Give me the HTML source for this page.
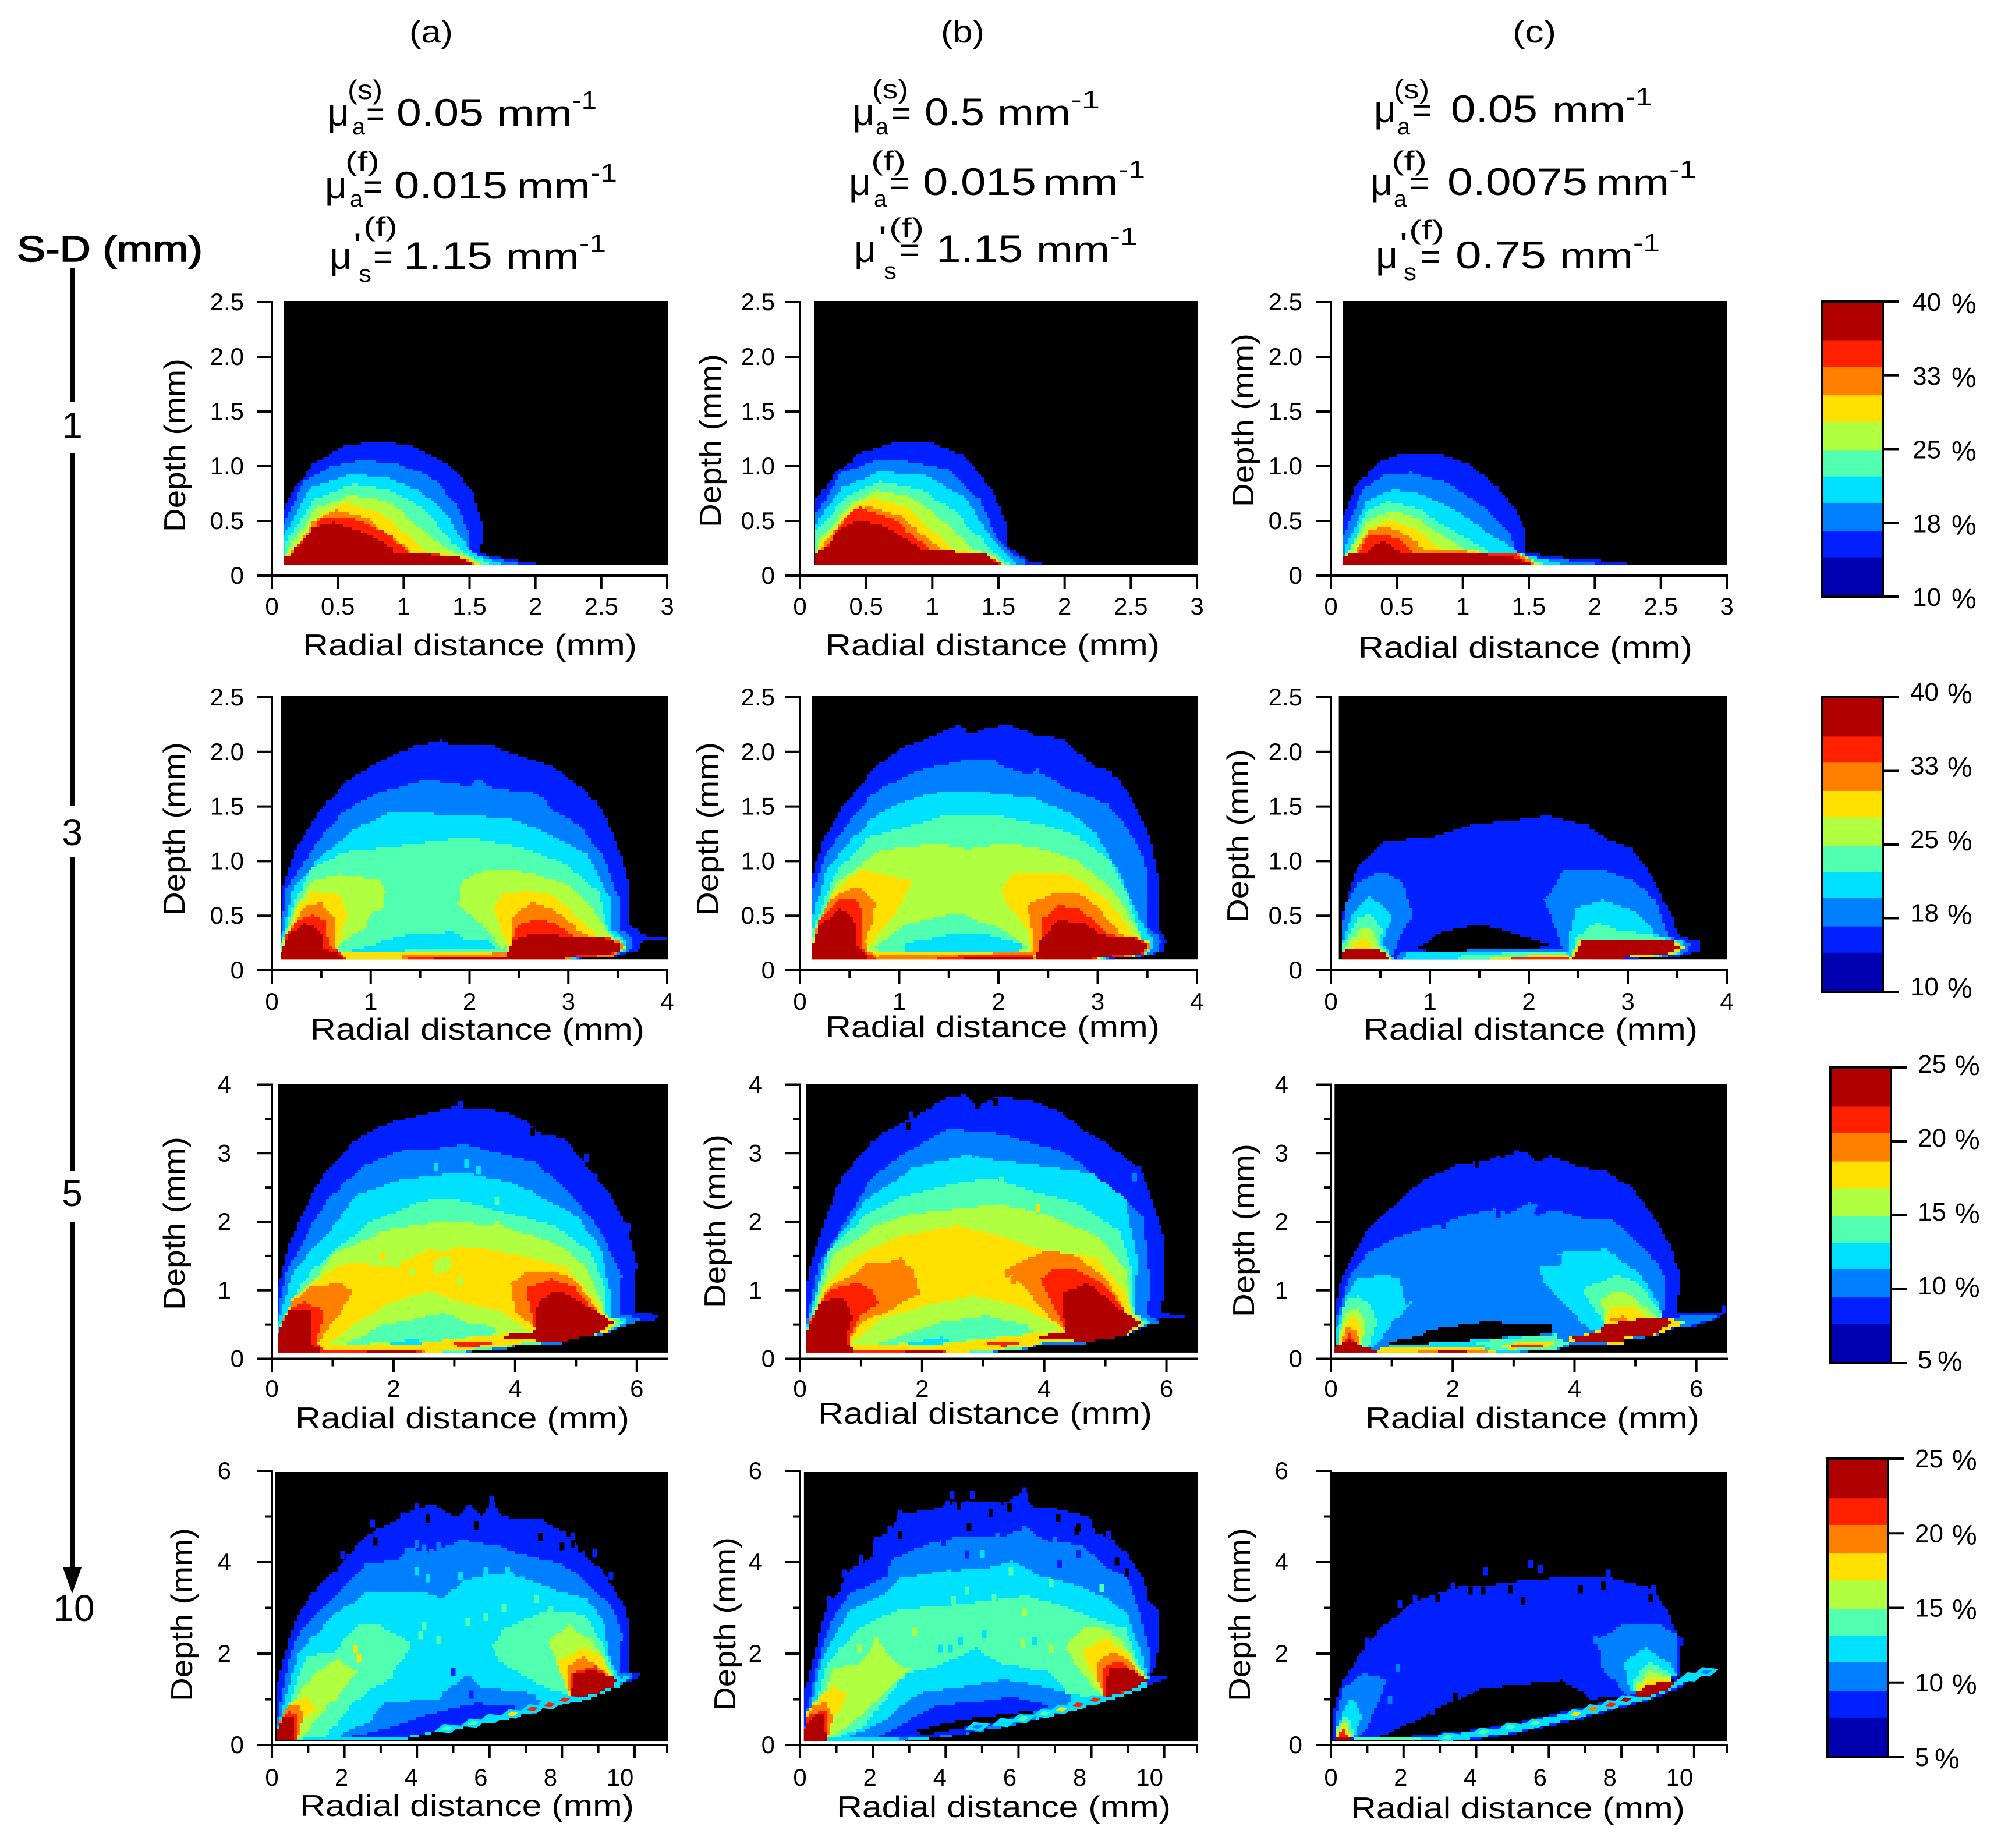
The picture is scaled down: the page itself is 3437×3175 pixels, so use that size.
<!DOCTYPE html>
<html>
<head>
<meta charset="utf-8">
<title>Fluorescence sensitivity maps</title>
<style>
html,body{margin:0;padding:0;background:#fff}
svg{display:block}
text{font-family:"Liberation Sans",sans-serif;fill:#000}
</style>
</head>
<body>
<svg id="figure" xmlns="http://www.w3.org/2000/svg" width="3437" height="3175" viewBox="0 0 3437 3175">
<rect x="0" y="0" width="3437" height="3175" fill="#fff"/>
<text x="703" y="73" font-size="54" textLength="75" lengthAdjust="spacingAndGlyphs">(a)</text>
<text x="1616" y="73" font-size="54" textLength="75" lengthAdjust="spacingAndGlyphs">(b)</text>
<text x="2598" y="73" font-size="54" textLength="75" lengthAdjust="spacingAndGlyphs">(c)</text>
<text x="29" y="449" font-size="62" stroke="#000" stroke-width="1.6" textLength="319" lengthAdjust="spacingAndGlyphs">S-D (mm)</text>
<g fill="#000">
<rect x="120" y="461" width="8" height="230"/>
<rect x="120" y="779" width="8" height="606"/>
<rect x="120" y="1473" width="8" height="539"/>
<rect x="120" y="2100" width="8" height="595"/>
<polygon points="124,2738 108,2693 140,2693"/>
</g>
<text x="124" y="753" font-size="64" text-anchor="middle">1</text>
<text x="124" y="1452" font-size="64" text-anchor="middle">3</text>
<text x="124" y="2072" font-size="64" text-anchor="middle">5</text>
<text x="127" y="2785" font-size="64" text-anchor="middle">10</text>
</svg>
<script>
/* ---------- colour bands (0 = hottest ... 9 = coldest, 10 = no signal) ---------- */
const bandColors=['#b00000','#ff2000','#ff8000','#ffe000','#b0ff40','#50ffb0','#00e0ff','#0080ff','#0020ff','#0000b0','#000000'];

/* ---------- tick values ---------- */
const row1YTicks=[0,0.5,1,1.5,2,2.5];
const row1YLabels=['0','0.5','1.0','1.5','2.0','2.5'];
const row1XTicks=[0,0.5,1,1.5,2,2.5,3];
const row1XLabels=['0','0.5','1','1.5','2','2.5','3'];
const row2YTicks=[0,0.5,1,1.5,2,2.5];
const row2YLabels=['0','0.5','1.0','1.5','2.0','2.5'];
const row2XTicks=[0,1,2,3,4];
const row2XLabels=['0','1','2','3','4'];
const row2XMinor=[0.5,1.5,2.5,3.5];
const row3YTicks=[0,1,2,3,4];
const row3YLabels=['0','1','2','3','4'];
const row3YMinor=[0.5,1.5,2.5,3.5];
const row3XTicks=[0,2,4,6];
const row3XLabels=['0','2','4','6'];
const row3XMinor=[1,3,5];
const row4YTicks=[0,2,4,6];
const row4YLabels=['0','2','4','6'];
const row4YMinor=[1,3,5];
const row4XTicks=[0,2,4,6,8,10];
const row4XLabels=['0','2','4','6','8','10'];
const row4XMinor=[1,3,5,7,9,10.9];

/* ---------- colour bar values ---------- */
const barLabelsHigh=['40','33','25','18','10'];
const barLabelsLow=['25','20','15','10','5'];
const barStops=[0,.133,.222,.318,.408,.504,.593,.682,.778,.867,1];
const barBands=[0,1,2,3,4,5,6,7,8,9];

/* ---------- contour layers: [band, [radial, depth, radial, depth, ...]] in mm ---------- */
const a1Bands=[
[8,[.09,.1,.09,.6,.17,.81,.31,1.03,.54,1.18,.81,1.23,1.05,1.18,1.32,1.03,1.52,.77,1.6,.46,1.59,.2,1.69,.175,2.02,.11,2.02,.1]],
[7,[.09,.1,.09,.48,.24,.87,.44,1,.64,1.05,.91,1.04,1.18,.91,1.39,.66,1.5,.38,1.5,.2,1.62,.17,1.86,.11,1.86,.1]],
[6,[.09,.1,.09,.38,.27,.79,.58,.93,.88,.89,1.15,.75,1.35,.5,1.49,.23,1.59,.17,1.76,.1]],
[5,[.09,.1,.1,.32,.31,.69,.61,.84,.88,.79,1.15,.6,1.35,.32,1.47,.2,1.66,.1]],
[4,[.09,.1,.12,.26,.34,.62,.58,.74,.85,.69,1.08,.48,1.29,.26,1.45,.19,1.6,.1]],
[3,[.09,.1,.13,.22,.37,.56,.54,.66,.81,.58,1.05,.34,1.18,.2,1.42,.19,1.59,.1]],
[2,[.09,.1,.14,.2,.31,.5,.48,.6,.71,.52,.95,.32,1.08,.2,1.39,.19,1.55,.1]],
[1,[.09,.1,.14,.2,.37,.53,.61,.52,.85,.4,1.05,.2,1.39,.19,1.54,.1]],
[0,[.09,.1,.09,.17,.14,.2,.31,.44,.46,.49,.64,.42,.81,.32,.95,.2,1.39,.19,1.52,.1]]
];
const b1Bands=[
[8,[.11,.1,.11,.68,.25,.93,.45,1.12,.75,1.23,.95,1.23,1.25,1.08,1.45,.77,1.56,.47,1.56,.26,1.71,.14,1.82,.11,1.82,.1]],
[7,[.11,.1,.11,.56,.3,.93,.6,1.07,.85,1.04,1.1,.97,1.35,.7,1.48,.35,1.58,.2,1.71,.12,1.7,.1]],
[6,[.11,.1,.11,.47,.32,.81,.6,.95,.95,.91,1.25,.7,1.45,.31,1.6,.14,1.65,.1]],
[5,[.11,.1,.12,.41,.35,.74,.6,.86,.9,.79,1.15,.6,1.4,.28,1.55,.14,1.6,.1]],
[4,[.11,.1,.14,.35,.4,.68,.57,.78,.85,.72,1.1,.47,1.3,.24,1.45,.18,1.55,.1]],
[3,[.11,.1,.15,.3,.4,.64,.55,.71,.8,.62,1.15,.24,1.4,.2,1.54,.1]],
[2,[.11,.1,.17,.28,.35,.56,.5,.64,.75,.54,1.08,.22,1.4,.2,1.53,.1]],
[1,[.11,.1,.2,.26,.35,.56,.45,.62,.7,.51,1,.22,1.4,.2,1.52,.1]],
[0,[.11,.1,.11,.2,.2,.26,.3,.43,.45,.51,.65,.45,.9,.24,1.4,.2,1.5,.1]]
];
const c1Bands=[
[8,[.09,.1,.09,.55,.18,.81,.35,1.04,.5,1.1,.84,1.1,1.03,1.02,1.25,.81,1.4,.59,1.47,.41,1.47,.22,1.63,.18,2.04,.14,2.24,.12,2.24,.1]],
[7,[.09,.1,.09,.37,.24,.79,.39,.92,.59,.94,.91,.83,1.18,.59,1.36,.37,1.4,.22,1.59,.16,2,.12,2,.1]],
[6,[.09,.1,.11,.28,.27,.68,.46,.79,.69,.74,.95,.59,1.21,.37,1.4,.22,1.52,.18,1.78,.1]],
[5,[.09,.1,.12,.22,.27,.59,.42,.68,.65,.61,.88,.44,1.18,.22,1.4,.21,1.63,.1]],
[4,[.09,.1,.12,.22,.27,.5,.46,.59,.65,.52,.84,.37,1.03,.22,1.4,.21,1.6,.1]],
[3,[.09,.1,.17,.22,.29,.44,.44,.51,.61,.44,.84,.23,1.4,.21,1.57,.1]],
[2,[.09,.1,.17,.22,.29,.41,.39,.45,.5,.41,.71,.23,1.38,.21,1.55,.1]],
[1,[.09,.1,.2,.22,.27,.35,.39,.38,.5,.33,.61,.22,1.36,.21,1.54,.1]],
[0,[.09,.1,.09,.18,.17,.21,.26,.22,.37,.31,.42,.3,.52,.21,1.33,.19,1.53,.1]]
];
const a2Bands=[
[8,[.09,.1,.09,.5,.12,.79,.26,1.17,.49,1.47,.75,1.74,1.13,1.94,1.43,2.05,1.71,2.11,1.8,2.05,2.03,2.05,2.16,2.07,2.44,1.98,2.82,1.87,3.19,1.62,3.38,1.39,3.53,1.05,3.62,.77,3.62,.41,3.72,.34,3.79,.31,4,.31,4,.29,3.76,.27,3.72,.19,3.49,.13,3.12,.1]],
[7,[.09,.1,.09,.33,.15,.77,.38,1.08,.68,1.43,1.05,1.62,1.28,1.68,1.54,1.75,1.99,1.69,2.08,1.75,2.22,1.67,2.67,1.62,2.85,1.45,3.12,1.32,3.38,.99,3.51,.64,3.51,.38,3.64,.3,3.64,.19,3.46,.13,3.08,.1]],
[6,[.09,.1,.09,.24,.21,.75,.49,1.05,.86,1.32,1.18,1.44,1.54,1.44,2.37,1.4,2.78,1.25,3.19,1.05,3.42,.64,3.44,.37,3.59,.26,3.57,.17,3.38,.13,3.05,.1]],
[5,[.09,.1,.09,.24,.23,.64,.38,.92,.68,1.08,1.28,1.14,1.78,1.2,2.03,1.21,2.59,1.11,2.97,.97,3.31,.7,3.4,.35,3.57,.24,3.53,.16,3.3,.13,3,.1]],
[4,[.1,.1,.1,.22,.24,.59,.38,.81,.66,.88,1.09,.83,1.16,.72,1.13,.56,1,.52,.94,.37,.71,.24,.6,.16,.6,.1]],
[4,[1.92,.81,2.08,.9,2.4,.92,2.63,.88,2.93,.81,3.15,.66,3.34,.41,3.45,.29,2.48,.28,2.33,.19,2.29,.26,2.18,.39,1.88,.61]],
[6,[.98,.23,1.43,.34,1.69,.32,1.78,.36,1.92,.29,2.18,.27,2.29,.19,.79,.18]],
[3,[.1,.1,.12,.19,.26,.59,.41,.72,.68,.69,.77,.5,.68,.26,.66,.18,.72,.1]],
[3,[2.23,.58,2.32,.7,2.57,.73,2.82,.69,3.12,.46,3.3,.3,3.5,.26,3.57,.2,3.45,.14,2.98,.11,2.98,.1,2.35,.1,2.38,.22,2.29,.46]],
[3,[.6,.1,.6,.17,2.42,.17,2.42,.1]],
[2,[.1,.1,.17,.35,.3,.57,.49,.62,.64,.46,.64,.18,.71,.1]],
[2,[2.42,.1,2.42,.24,2.44,.5,2.61,.62,2.82,.57,3.15,.33,3.23,.3,3.51,.26,3.57,.22,3.47,.13,2.97,.1]],
[2,[1.3,.1,1.3,.14,2.38,.16,2.38,.1]],
[1,[.1,.1,.15,.33,.26,.46,.39,.51,.53,.46,.58,.22,.71,.13,.75,.1]],
[1,[2.42,.1,2.42,.28,2.52,.44,2.7,.47,2.89,.41,3.04,.31,3.42,.29,3.55,.22,3.45,.14,2.97,.11,2.95,.1]],
[1,[1.33,.1,1.6,.125,2.38,.13,2.38,.1]],
[0,[.09,.1,.09,.17,.19,.35,.3,.43,.41,.41,.53,.28,.53,.2,.68,.15,.71,.1]],
[0,[2.38,.1,2.38,.17,2.44,.28,2.67,.34,2.85,.32,3.38,.29,3.55,.22,3.49,.16,2.97,.12,2.95,.1]],
[0,[1.54,.1,1.8,.115,2.38,.12,2.38,.1]]
];
const b2Bands=[
[8,[.12,.1,.12,.83,.22,1.19,.43,1.5,.76,1.87,.96,2.01,1.27,2.12,1.58,2.25,1.72,2.16,1.87,2.22,2.1,2.25,2.34,2.15,2.64,2.12,2.78,1.99,2.98,1.85,3.11,1.83,3.31,1.61,3.51,1.25,3.61,.83,3.61,.46,3.6,.38,3.7,.26,3.66,.17,3.48,.13,3.14,.1]],
[7,[.12,.1,.12,.55,.14,.77,.26,1.08,.56,1.45,.8,1.67,1.16,1.82,1.33,1.86,1.67,1.93,1.9,1.94,2.07,1.86,2.3,1.79,2.37,1.84,2.67,1.67,3.08,1.52,3.3,1.3,3.48,.97,3.5,.38,3.65,.26,3.6,.17,3.45,.13,3.08,.1]],
[6,[.12,.1,.12,.46,.26,.92,.56,1.25,.8,1.45,1,1.53,1.3,1.62,1.73,1.64,2.34,1.57,2.74,1.43,3.01,1.21,3.21,.88,3.38,.55,3.5,.33,3.58,.24,3.5,.14,3.05,.1]],
[5,[.12,.1,.13,.39,.33,.86,.66,1.21,1,1.3,1.43,1.42,1.97,1.42,2.41,1.34,2.78,1.23,3.11,1.01,3.3,.68,3.45,.29,3.55,.24,3.5,.14,3.02,.1]],
[4,[.12,.1,.14,.35,.36,.81,.8,1.1,1.03,1.13,1.4,1.16,1.67,1.11,1.94,1.15,2.17,1.15,2.44,1.11,2.78,1.01,3.11,.77,3.35,.44,3.45,.29,3.55,.24,3.48,.14,3,.1]],
[3,[.12,.1,.14,.28,.33,.72,.59,.92,1.13,.82,1.06,.64,.9,.44,.73,.26,.66,.19,.8,.15,.8,.1]],
[3,[2.02,.77,2.15,.88,2.61,.9,2.84,.81,3.08,.64,3.38,.3,3.48,.27,3.55,.22,3.46,.14,2.98,.1,2.38,.1,2.34,.18,2.3,.35,2.07,.66]],
[3,[.6,.1,.66,.18,.8,.17,2.34,.18,2.39,.1]],
[5,[.73,.22,1.1,.43,1.33,.48,1.58,.53,2,.38,2.3,.2,2.2,.18,.86,.17]],
[6,[1.06,.25,1.47,.32,1.87,.32,2.25,.23,2.2,.18,1.06,.18]],
[2,[.12,.1,.17,.41,.29,.64,.56,.77,.76,.6,.73,.41,.66,.26,.68,.17,.8,.11,.8,.1]],
[2,[2.29,.61,2.57,.71,2.78,.7,3.01,.57,3.21,.33,3.45,.27,3.54,.22,3.46,.14,2.98,.1,2.37,.1,2.36,.28]],
[2,[.75,.1,.8,.14,1.33,.14,2.34,.17,2.37,.1]],
[1,[.12,.1,.19,.46,.39,.64,.56,.65,.63,.53,.63,.19,.76,.1]],
[1,[2.44,.1,2.44,.48,2.59,.59,2.78,.57,2.94,.46,3.11,.32,3.41,.29,3.51,.22,3.46,.15,2.98,.1]],
[1,[1.33,.1,1.63,.14,2.34,.14,2.36,.1]],
[0,[.12,.1,.12,.2,.19,.41,.39,.56,.54,.48,.58,.19,.69,.13,.69,.1]],
[0,[2.37,.1,2.42,.28,2.59,.46,2.81,.44,3.04,.32,3.38,.29,3.51,.22,3.45,.15,2.98,.12,2.94,.1]],
[0,[1.6,.1,1.87,.13,2.34,.13,2.34,.1]]
];
const c2Bands=[
[8,[.1,.1,.1,.5,.26,.94,.52,1.18,1.02,1.22,1.42,1.34,1.79,1.37,2.17,1.42,2.57,1.33,2.82,1.18,3.02,1.12,3.27,.81,3.45,.46,3.5,.32,3.72,.26,3.72,.17,3.52,.13,3.07,.1]],
[10,[.84,.2,1.12,.35,1.47,.42,1.72,.37,2.25,.22,1.67,.18,1.02,.18]],
[7,[.1,.1,.1,.28,.14,.59,.27,.81,.49,.9,.72,.81,.82,.5,.69,.28,.67,.19,.6,.1]],
[7,[2.15,.64,2.35,.92,2.67,.93,3.02,.83,3.27,.64,3.37,.41,3.42,.3,3.67,.24,3.55,.14,3.12,.11,2.42,.1,2.32,.26,2.27,.41]],
[7,[.64,.1,.72,.18,2.37,.19,2.42,.1]],
[6,[.1,.1,.11,.26,.22,.55,.39,.68,.62,.5,.52,.22,.64,.1]],
[6,[2.42,.35,2.47,.57,2.72,.64,3.07,.53,3.27,.33,3.57,.25,3.52,.14,3.05,.11,2.42,.1]],
[6,[.7,.1,.77,.16,2.37,.18,2.42,.1]],
[5,[.1,.1,.12,.24,.27,.48,.39,.52,.52,.37,.49,.22,.62,.1]],
[5,[2.47,.3,2.67,.44,2.87,.37,3.22,.32,3.54,.25,3.5,.14,3.05,.11,2.42,.1]],
[5,[1.27,.1,1.32,.15,2.37,.17,2.4,.1]],
[4,[.1,.1,.14,.22,.29,.39,.42,.37,.47,.22,.6,.1]],
[3,[.1,.1,.19,.21,.32,.3,.42,.21,.59,.13,.62,.1]],
[3,[1.52,.1,2.12,.14,2.4,.15,2.4,.1]],
[1,[1.72,.1,2.07,.12,2.4,.12,2.4,.1]],
[0,[.1,.1,.1,.17,.17,.2,.47,.2,.59,.1]],
[3,[2.4,.1,2.52,.29,3.42,.29,3.57,.2,3.45,.14,3.07,.12,2.92,.1]],
[0,[2.42,.1,2.53,.27,3.4,.285,3.53,.2,3.42,.15,3.02,.13,2.95,.1]]
];
const a3Base=[5.47,.36,4.87,.3,4.81,.23,4.14,.21,3.83,.13,3.04,.09,.1,.09];
const a3BaseMid=[5.47,.37,4.87,.31,4.81,.24,4.14,.22,3.87,.17,3.4,.11,2.9,.09,.1,.09];
const a3BaseIn=[5.45,.38,4.87,.32,4.81,.25,4.14,.23,3.9,.2,3.6,.16,3,.12,2.7,.09,.1,.09];
const a3Bands=[
[8,[.1,1.04,.27,1.66,.55,2.22,.82,2.68,1.16,3.01,1.43,3.24,1.98,3.47,2.68,3.61,3.01,3.68,3.83,3.61,4.2,3.45,4.32,3.31,4.8,3.21,5.05,2.93,5.29,2.68,5.54,2.4,5.87,1.83,5.99,1.34,5.96,.69,6.36,.64,6.36,.57,6.02,.55,5.72,.46,...a3Base]],
[7,[.1,.67,.24,1.27,.61,1.9,.97,2.4,1.52,2.82,2.07,3.03,2.8,3.08,3.16,3.14,3.77,2.98,4.32,2.86,4.62,2.64,5.05,2.26,5.47,1.73,5.75,1.2,5.72,.64,6.08,.57,5.78,.46,...a3Base]],
[6,[.1,.53,.36,1.31,.97,1.9,1.4,2.4,2.07,2.61,3.1,2.73,3.89,2.57,4.5,2.33,5.05,2.05,5.41,1.55,5.6,.81,5.57,.6,5.9,.55,5.7,.46,...a3BaseMid]],
[5,[.12,.46,.49,1.13,1.03,1.62,1.58,1.98,2.43,2.29,2.86,2.35,3.77,2.15,4.62,1.94,5.23,1.55,5.47,1.02,5.5,.6,5.86,.55,5.68,.46,...a3BaseMid]],
[4,[.15,.46,.55,1.02,1.03,1.55,1.82,1.87,2.8,2.01,3.77,1.94,4.62,1.69,5.11,1.38,5.41,.85,5.47,.6,5.72,.55,5.6,.44,...a3BaseIn]],
[3,[.15,.5,.36,.92,1.03,1.34,1.28,1.41,1.89,1.34,2.49,1.55,3.28,1.62,4.01,1.52,4.8,1.34,5.29,.85,5.53,.58,5.65,.5,5.55,.4,...a3BaseIn]],
[4,[.85,.2,1.34,.5,1.82,.78,2.55,.99,3.16,.81,3.71,.71,4.08,.48,4.32,.39,3.8,.36,2.8,.27,2.19,.2]],
[4,[2.68,1.45,2.98,1.52,2.92,1.27,2.68,1.24]],
[5,[1.16,.21,1.82,.5,2.2,.55,2.8,.67,3.16,.53,3.65,.46,3.65,.36,2.8,.27,2.19,.25]],
[6,[1.76,.2,2.31,.3,2.5,.2]],
[2,[.18,.57,.36,.88,.61,1.04,1.09,1.11,1.34,.95,1.16,.71,1.03,.53,.79,.25,.67,.16,.18,.16]],
[1,[.18,.53,.3,.74,.49,.83,.85,.71,.85,.53,.73,.25,.85,.13,.85,.09,.1,.09,.1,.3]],
[0,[.1,.09,.1,.39,.27,.71,.64,.71,.67,.21,.79,.14,.79,.09]],
[3,[.79,.09,.85,.165,2.37,.165,2.62,.09]],
[2,[.8,.09,.85,.14,2.37,.13,2.5,.09]],
[1,[.8,.09,.85,.125,2.35,.12,2.5,.09]],
[0,[1.5,.09,1.6,.11,2.3,.11,2.4,.09]],
[3,[2.55,.23,2.98,.27,3.71,.27,4.01,.2,3.7,.16,2.9,.15]],
[1,[2.8,.21,3.16,.25,3.59,.25,3.68,.2,3.22,.17]],
[2,[3.92,1.09,4.14,1.27,4.62,1.27,4.93,1.18,5.23,.85,5.41,.6,4.32,.46,4.01,.71]],
[1,[4.17,1.02,4.56,1.17,4.99,1.02,5.41,.58,4.32,.46,4.26,.71]],
[0,[4.32,.78,4.62,.99,4.8,.95,5.47,.6,5.63,.51,5.35,.36,4.8,.26,4.38,.27,3.89,.29,3.77,.34,4.32,.41]]
];
const a3Speckles=[[2.07,1.38,4],[2.31,1.27,4],[3.1,1.13,4],[1.82,1.48,3],[2.62,1.55,3],[3.1,1.59,3],[5.17,2.93,8],[5.32,2.64,8],[5.87,1.92,8],[4.29,3.31,10],[3.1,3.7,8],[2.7,2.8,6],[3.2,2.85,6],[3.4,2.75,6],[2.3,2.2,5],[3.7,2.3,5],[2.8,1.95,4],[3.7,1.95,4]];
const b3Base=[5.39,.34,4.84,.3,4.79,.23,4.02,.22,3.75,.13,3.04,.09,.1,.09];
const b3BaseMid=[5.39,.35,4.84,.31,4.79,.24,4.02,.23,3.8,.17,3.4,.11,2.9,.09,.1,.09];
const b3BaseIn=[5.38,.36,4.84,.32,4.79,.25,4.02,.24,3.85,.2,3.6,.16,3,.12,2.7,.09,.1,.09];
const b3Bands=[
[8,[.12,1.13,.26,1.66,.42,2.08,.69,2.68,1.29,3.28,1.78,3.49,2.33,3.79,2.71,3.86,2.88,3.68,3.18,3.82,3.75,3.77,4.24,3.61,4.57,3.35,5,3.14,5.39,2.87,5.61,2.68,5.71,2.43,5.99,1.66,5.99,1.02,5.91,.67,6.34,.6,5.93,.57,5.61,.46,...b3Base]],
[7,[.1,.5,.31,1.38,.75,2.05,1.18,2.68,1.84,3.07,2.39,3.35,3.26,3.28,4.24,3.03,4.84,2.68,5.61,2.05,5.74,1.02,5.66,.64,5.85,.51,5.58,.46,...b3Base]],
[6,[.1,.43,.42,1.52,1.02,2.29,1.84,2.79,2.66,2.96,3.53,2.86,4.79,2.71,5.33,2.29,5.52,1.48,5.5,.62,5.77,.53,5.56,.46,...b3BaseMid]],
[5,[.1,.39,.47,1.62,1.08,2.12,1.62,2.36,2.6,2.57,3.09,2.64,3.8,2.43,4.51,2.29,5.22,1.87,5.44,1.27,5.47,.64,5.7,.52,5.54,.44,...b3BaseMid]],
[4,[.12,.39,.53,1.52,1.13,1.9,1.84,2.12,3.26,2.26,3.97,2.12,4.9,1.76,5.33,1.27,5.44,.67,5.65,.52,5.52,.42,...b3BaseIn]],
[3,[.14,.43,.37,1.02,.86,1.48,1.62,1.8,2.55,1.94,3.26,1.8,4.02,1.57,4.84,1.48,5.28,.99,5.44,.6,5.6,.52,5.5,.4,...b3BaseIn]],
[4,[.8,.21,1.29,.57,2,.78,2.82,.92,3.53,.78,4.02,.57,4.32,.41,3.8,.37,2.66,.25,2.17,.18]],
[5,[1.18,.21,1.84,.39,2.28,.53,2.99,.62,3.7,.5,3.8,.37,2.71,.27,2.17,.25]],
[6,[1.57,.2,2.28,.32,2.49,.25,2.17,.2]],
[2,[.17,.57,.42,1.02,.86,1.24,1.08,1.41,1.4,1.38,1.62,1.48,1.87,1.27,1.95,.94,1.4,.67,1.02,.53,.8,.25,.7,.16,.17,.16]],
[1,[.17,.53,.42,.99,.91,1.1,1.18,.99,1.29,.8,.97,.6,.8,.25,.86,.13,2.41,.12,2.41,.09,.1,.09,.1,.3]],
[0,[.1,.09,.1,.39,.31,.81,.53,.9,.75,.85,.86,.6,.75,.25,.86,.14,.86,.09]],
[0,[1.6,.09,1.8,.11,2.3,.11,2.35,.09]],
[3,[2.6,.22,3.1,.27,3.7,.27,3.95,.2,3.6,.16,2.95,.15]],
[1,[2.96,.22,3.2,.25,3.64,.23,3.4,.18]],
[2,[3.4,1.31,3.59,1.41,4,1.57,4.46,1.52,5,1.17,5.36,.6,4.32,.41,3.8,.92]],
[1,[3.94,1.17,4.13,1.31,4.51,1.31,4.95,1.1,5.39,.6,4.32,.46,4.08,.92]],
[0,[4.3,.78,4.3,.97,4.68,1.1,5,.88,5.39,.62,5.58,.51,5.33,.34,4.79,.26,3.83,.3,4.08,.37,4.35,.39]]
];
const b3Speckles=[[1.78,3.4,10],[1.82,3.55,8],[5.55,2.75,8],[5.48,2.65,7],[2.9,3.7,10],[3.2,3.75,10],[2.1,2.75,6],[2.9,2.9,6],[3.3,2.6,5],[3.6,2.45,5],[2.1,2.1,4],[3.3,2.2,4],[3.9,2.2,3],[3.4,1.25,2],[3.5,1.15,2],[3.6,1.05,3]];
const c3Base=[5.35,.32,4.8,.3,4.75,.23,3.98,.2,3.7,.13,3.05,.09,.06,.09];
const c3Bands=[
[8,[.09,.78,.14,1.1,.31,1.45,.58,1.87,.91,2.15,1.21,2.4,1.57,2.64,2.03,2.82,2.39,2.87,2.77,2.93,3.16,3.03,3.38,2.87,3.59,2.96,4.03,2.8,4.47,2.75,4.91,2.5,5.29,2.08,5.59,1.62,5.73,1.17,5.68,.67,6.5,.69,6.39,.58,5.9,.46,5.51,.43,...c3Base]],
[7,[.08,.57,.31,1.24,.58,1.52,.96,1.73,1.46,1.89,1.84,1.98,2.28,2.12,2.66,2.19,2.88,2.12,3.29,2.29,3.35,2.12,3.7,2.17,4.14,2.03,4.58,2.03,5.07,1.66,5.35,1.38,5.48,1.17,5.46,.6,6.34,.64,6.34,.58,5.9,.48,5.46,.43,...c3Base]],
[10,[.91,.2,.96,.25,1.46,.34,1.62,.43,1.95,.47,2.55,.55,2.94,.51,3.59,.5,3.65,.41,3.48,.36,2.5,.29,2.32,.19]],
[6,[.11,.5,.25,.92,.42,1.17,.86,1.24,1.13,1.17,1.19,.88,1.33,.8,1.08,.57,.91,.36,.75,.2,.64,.09,.1,.09]],
[6,[3.43,1.34,3.76,1.38,3.73,1.54,3.98,1.57,4.47,1.59,5.02,1.27,5.35,.85,5.46,.6,5.84,.53,5.5,.44,4.31,.41,4.03,.64,3.7,.92,3.48,1.13]],
[6,[.75,.09,.8,.18,2.5,.29,3.65,.36,3.92,.21,3.7,.14,2.94,.09]],
[5,[.11,.32,.22,.85,.42,.92,.64,.78,.75,.5,.64,.2,.6,.09,.11,.09]],
[5,[4.14,1.02,4.66,1.24,5.04,1.09,5.37,.74,5.46,.6,5.82,.52,5.5,.44,4.5,.5,4.33,.74]],
[4,[.11,.25,.22,.67,.42,.74,.56,.53,.53,.18,.5,.09,.11,.09]],
[4,[4.44,.88,4.6,.99,4.88,.95,5.32,.6,5.78,.52,5.5,.46,4.5,.5]],
[3,[.11,.2,.28,.58,.42,.58,.5,.39,.47,.18,.45,.09,.11,.09]],
[3,[4.5,.55,4.6,.78,4.91,.78,5.13,.6,5.75,.52,5.5,.46,4.6,.5]],
[2,[.14,.18,.25,.46,.42,.41,.47,.2,.45,.09,.11,.09]],
[2,[4.58,.57,4.77,.62,4.93,.57,4.93,.5,4.58,.5]],
[1,[.17,.18,.28,.39,.39,.23,.53,.16,.45,.09,.11,.09]],
[0,[.06,.09,.06,.16,.2,.25,.31,.3,.42,.2,.64,.14,.75,.09]],
[3,[.75,.09,.8,.16,2.39,.18,2.72,.09]],
[2,[1.35,.09,1.5,.13,2.44,.13,2.6,.09]],
[0,[1.73,.09,1.79,.12,2.17,.12,2.3,.09]],
[5,[2.33,.25,3.65,.36,3.92,.21,3.7,.14,2.77,.11]],
[3,[2.77,.21,3.48,.27,3.7,.21,3.48,.16,2.94,.14]],
[1,[2.94,.2,3.48,.22,3.48,.18,3.04,.18]],
[3,[3.8,.3,4.42,.42,4.5,.52,5.07,.6,5.6,.57,5.75,.5,5.4,.36,4.85,.3,4.8,.22,4.03,.25]],
[0,[3.87,.3,4.42,.39,4.47,.5,5.07,.58,5.51,.57,5.57,.5,5.35,.36,4.85,.32,4.77,.23,4.03,.27]]
];
const c3Speckles=[[2.4,2.85,10],[2.75,2.9,8],[3.05,2.98,8],[3.35,2.2,7],[3.4,2.15,8],[2.75,2.12,8],[1.85,1.95,8],[1.25,.85,7],[1.35,.95,7],[3.4,1.2,7],[3.75,1.45,7],[6.45,.72,8]];
const a4Base=[9.56,1.27,8.63,.97,7.81,.86,6.78,.61,5.76,.45,4.52,.28,3.6,.09,.09,.08];
const a4Bands=[
[8,[.09,1.19,.41,2.12,.62,2.73,1.03,3.27,1.34,3.55,1.85,3.93,2.26,4.32,2.67,4.65,3.08,4.81,3.7,5.06,4.37,5.28,5.04,4.98,5.45,5.23,5.76,5.01,6.06,5.31,6.37,4.98,7.4,4.92,7.91,4.7,8.53,4.26,9.15,3.71,9.76,2.95,9.87,2.4,9.87,1.57,10.07,1.54,10.33,1.64,10.07,1.46,...a4Base]],
[7,[.09,.36,.51,2.01,.82,2.56,1.44,3.05,2.06,3.55,2.57,3.99,3.49,4.04,3.7,4.32,4.32,4.21,5.24,4.48,6.37,4.32,6.78,4.18,7.81,3.99,8.32,3.77,8.84,3.38,9.35,3.05,9.66,2.4,9.56,1.57,10.07,1.52,...a4Base]],
[6,[.12,.31,.72,2.01,1.64,2.84,2.57,3.33,3.91,3.38,4.73,3.22,5.24,3.6,5.86,3.71,6.58,3.74,7.81,3.38,8.63,3.22,9.15,2.67,9.35,1.79,9.56,1.46,9.97,1.52,...a4Base]],
[7,[1.75,.2,2.67,.53,3.08,.91,4.52,1.02,5.34,1.52,5.76,1.27,7.19,1.13,7.4,.91,6.78,.69,5.76,.53,4.52,.31,3.7,.17]],
[8,[1.85,.14,2.98,.34,4.42,.69,5.55,.91,6.68,.86,6.78,.69,5.76,.53,4.52,.31,3.7,.17]],
[5,[.15,.25,.92,1.96,1.64,2.01,2.36,2.62,2.98,2.62,3.91,2.18,3.39,1.63,3.29,1.41,2.77,1.24,1.95,.64,1.54,.2,.72,.11]],
[5,[6.06,2.12,6.37,2.56,7.6,2.95,8.63,2.84,9.15,2.12,9.46,1.46,8.32,1.08,7.4,1.3,6.37,1.79]],
[4,[.2,.25,.82,1.3,1.75,1.9,2.36,1.57,1.85,1.08,1.13,.42,.82,.14]],
[4,[7.6,2.29,8.12,2.62,8.84,2.23,9.35,1.57,8.32,1.08,8.02,1.57]],
[3,[.2,.53,.51,.91,.92,1.05,1.23,.75,.82,.53,.72,.14,.2,.14]],
[3,[7.81,1.85,8.53,2.12,9.04,1.96,9.35,1.52,8.22,1.08,8.02,1.52]],
[2,[.15,.36,.41,.86,.77,.88,.87,.58,.72,.17,.15,.14]],
[2,[8.12,1.68,8.53,1.96,8.94,1.71,9.35,1.49,8.22,1.05]],
[1,[.1,.25,.41,.75,.67,.61,.72,.09,.09,.09]],
[1,[8.22,1.57,8.84,1.74,9.46,1.41,8.22,1.05]],
[0,[.09,.08,.09,.31,.31,.58,.62,.58,.62,.08]],
[0,[8.32,1.57,8.84,1.63,9.51,1.43,9.46,1.27,8.63,1.05,8.22,1.02]],
[3,[.7,.08,.8,.13,2.4,.13,2.6,.08]],
[1,[.8,.08,.9,.11,2.1,.11,2.2,.08]]
];
const a4Beads=[[7.19,.79,1],[7.66,.88,1],[8.07,.99,1],[6.63,.68,3],[5.55,.48,5],[4.83,.36,5],[6.06,.58,6]];
const a4Speckles=[[2.78,4.85,8],[2.9,4.6,8],[3.6,5,8],[4,5.2,8],[4.05,5,8],[6.06,5.35,8],[5.4,5.15,8],[8.05,4.6,8],[8.3,4.55,8],[8.55,4.1,8],[8.9,4.2,8],[9.2,3.6,8],[9.35,3.7,8],[1.95,4.15,8],[2.85,4.45,10],[4.3,4.95,10],[5.65,4.8,10],[7.4,4.55,10],[8,4.35,10],[8.3,4.4,10],[8.5,4.3,10],[4,4.4,7],[4.2,4.3,7],[4.4,4.2,7],[4.6,4.35,7],[5.2,4.4,7],[5.7,4.2,7],[6,4.1,7],[6.4,4.2,7],[5.2,3.7,6],[5.3,3.5,6],[5.9,3.8,6],[6,3.6,6],[6.5,3.8,6],[6.6,3.7,6],[6.9,3.6,6],[4,3.8,6],[4.3,3.65,6],[5.4,2.7,5],[5.9,2.8,5],[4.2,2.6,5],[4.1,2.4,5],[4.6,2.3,5],[6.4,3,5],[7.3,3.2,5],[7.7,2.95,5],[2.3,2.1,3],[2.4,1.9,3],[5,1.6,8],[5.5,1.1,8]];
const b4Base=[9.49,1.24,8.38,.95,7.37,.71,5.89,.45,4.59,.24,3.85,.16,2.88,.07,.11,.07];
const b4Bands=[
[8,[.11,1.16,.39,1.96,.62,2.75,.76,3.17,1.08,3.38,1.27,3.81,2.01,4.12,2.05,4.49,2.47,4.7,2.7,5.07,3.49,5.13,4.13,5.29,4.96,5.34,5.52,5.29,6.16,5.58,6.35,5.23,7.18,5.15,7.92,4.97,8.11,4.65,8.47,4.52,9.03,4.12,9.4,3.7,9.58,3.12,9.86,2.96,9.86,2.38,9.77,1.69,9.63,1.53,10.05,1.53,10.05,1.45,...b4Base]],
[7,[.14,.53,.43,1.64,.8,2.64,1.36,3.33,2.38,3.7,2.47,4.07,3.49,4.39,4.22,4.55,5.52,4.55,6.16,4.76,6.8,4.44,7.64,4.39,8.29,3.96,9.03,3.59,9.31,2.91,9.58,2.11,9.58,1.59,...b4Base]],
[6,[.16,.37,.62,1.96,1.36,2.96,2.1,3.22,2.74,3.65,3.95,3.81,5.06,3.86,5.79,4.02,6.53,3.7,7.64,3.49,8.47,3.17,9.03,2.8,9.31,2.11,9.58,1.43,...b4Base]],
[5,[.2,.26,.71,1.74,1.54,2.54,2.65,2.96,4.22,3.07,5.24,3.17,6.16,3.28,6.9,3.12,8.11,2.75,8.94,2.54,9.21,1.96,9.49,1.43,8.29,1.06,7.37,1.11,6.9,1.59,5.52,1.8,4.87,2.11,3.85,1.74,2.93,1.53,2.38,1,1.82,.42,1.08,.16]],
[7,[1.27,.18,2.38,.58,3.21,1.14,4.41,1.27,5.52,1.43,6.44,1.32,7.46,1.11,7.37,.74,5.89,.45,4.59,.24,3.85,.16,2.88,.13]],
[8,[2.1,.18,3.67,.85,4.87,.95,5.79,1.06,6.9,.85,6.44,.69,4.59,.26,3.58,.16]],
[10,[3.11,.32,4.22,.53,5.52,.66,6.35,.74,6.44,.69,5.52,.53,4.41,.37,3.48,.21]],
[4,[.25,.26,.9,1.69,1.64,1.8,2.1,2.33,2.56,1.8,3.02,1.64,2.28,1.06,1.64,.58,.9,.18]],
[4,[7.27,2.17,7.74,2.59,8.47,2.54,9.12,1.96,9.49,1.43,8.38,1.06,8.01,1.32,7.55,1.8]],
[3,[.2,.74,.53,1.06,.9,1.32,1.27,1.06,1.17,.79,.9,.53,.8,.16,.2,.2]],
[3,[7.74,2.06,8.38,2.33,9.03,1.96,9.4,1.43,8.34,1.11,8.01,1.59]],
[2,[.16,.58,.34,.85,.71,.95,.9,.58,.76,.16,.14,.14]],
[2,[8.2,1.85,8.57,2.03,9.03,1.85,9.4,1.43,8.34,1.11,8.2,1.43]],
[1,[.14,.42,.25,.69,.71,.74,.72,.07,.11,.07]],
[1,[8.29,1.69,8.75,1.85,9.21,1.53,9.54,1.4,8.84,1.11,8.29,1.06]],
[0,[.11,.07,.11,.37,.39,.69,.67,.66,.71,.07]],
[0,[8.38,1.48,8.52,1.69,8.94,1.69,9.49,1.4,9.21,1.22,8.38,1.06]]
];
const b4Beads=[[8.1,.99,1],[7.64,.88,1],[7.18,.78,3],[6.72,.69,5],[6.12,.58,5],[5.61,.49,6],[4.87,.4,7]];
const b4Speckles=[[4.18,5.47,8],[4.73,5.47,8],[6.16,5.55,8],[6.07,5.42,8],[4.59,5.26,8],[4.04,5.26,8],[2.74,5.05,8],[2.47,4.7,8],[2.1,4.47,8],[1.68,4.07,8],[1.22,3.75,8],[8.47,4.6,8],[9.03,3.8,8],[.8,3.17,8],[4.36,5.23,10],[5.75,5.2,10],[5.24,5.07,10],[7.09,4.97,10],[7.64,4.76,10],[7.6,4.68,10],[4.64,4.78,10],[8.7,4.02,10],[8.98,3.78,10],[2.75,4.6,10],[3.95,4.33,7],[3.2,4.23,7],[6.16,4.7,7],[5.43,4.55,7],[7,4.47,7],[4.59,4.17,8],[7.13,3.96,8],[7.64,4.18,8],[3.95,4.44,8],[5.01,4.18,6],[4.08,3.75,6],[2.93,3.54,6],[6.3,3.75,6],[5.33,3.22,5],[4.59,3.38,5],[5.79,3.8,5],[6.9,3.54,5],[8.29,3.44,5],[4.22,3.17,5],[3.16,2.48,4],[6.16,2.91,4],[6.9,2.11,4],[6.12,2.22,4],[2.1,2.27,4],[1.64,2.11,4],[4.13,2.11,6],[5.06,2.43,6],[4.41,2.27,6],[3.85,2.11,6],[6.44,2.27,6],[8.66,2.96,6]];
const c4Bands=[
[8,[.73,.09,.04,.09,.04,.69,.32,1.41,.73,1.96,1.42,2.62,2.32,3.16,3.36,3.44,4.33,3.49,5.29,3.6,6.26,3.66,7.64,3.66,8.88,3.41,9.29,2.84,9.64,2.23,9.64,1.52,8.19,1.05,7.22,1.02,6.4,1.41,5.29,1.32,4.19,1.24,3.08,.86,2.39,.53,1.56,.25,1.15,.14]],
[8,[2.2,.07,2.2,.2,3.77,.32,5.01,.46,5.98,.65,6.95,.81,7.91,1.04,8.33,1.14,9.71,1.5,10.47,1.72,10.47,1.6,9.71,1.28,8.74,.95,7.91,.79,6.95,.57,5.98,.41,5.01,.24,3.77,.08]],
[7,[.11,.53,.32,1.24,.87,1.57,1.56,1.41,1.28,.86,1.01,.36,.73,.14,.11,.14]],
[7,[7.36,2.34,8.05,2.67,9.02,2.62,9.5,2.4,9.5,1.52,8.26,1.08,7.5,1.63]],
[6,[.11,.31,.52,1.08,.87,.64,.66,.14,.11,.14]],
[6,[8.05,1.85,8.6,2.15,9.29,1.79,9.5,1.52,8.26,1.13]],
[6,[.73,.09,.73,.14,2.67,.17,3.77,.28,5.01,.42,5.98,.61,6.95,.77,7.91,1,8.33,1.08,9.71,1.46,10.47,1.68,10.26,1.54,9.71,1.32,8.74,.99,7.91,.83,6.95,.61,5.98,.45,5.01,.28,3.77,.12,2.94,.09]],
[5,[.15,.42,.39,.64,.62,.31,.62,.14,.15,.14]],
[5,[8.33,1.46,8.74,1.85,9.43,1.49,8.33,1.16]],
[4,[.18,.36,.39,.53,.57,.14,.18,.14]],
[4,[8.4,1.35,8.74,1.63,9.43,1.45,8.4,1.16]],
[5,[.6,.08,.65,.14,2.4,.14,2.8,.08]],
[4,[1.4,.08,1.45,.12,2.25,.12,2.3,.08]],
[3,[.21,.25,.32,.47,.52,.17,.2,.17]],
[3,[8.47,1.3,8.74,1.46,9.5,1.43,8.4,1.16]],
[1,[.15,.17,.29,.34,.46,.17]],
[0,[.04,.08,.11,.17,.52,.17,.62,.08]],
[0,[8.4,1.16,8.6,1.27,9.02,1.38,9.5,1.35,9.3,1.21,8.74,1.05,8.4,1.05]]
];
const c4Beads=[[8.12,.99,0],[7.71,.88,1],[7.22,.79,2],[6.74,.68,3],[5.63,.48,5],[4.94,.39,5],[4.19,.28,5],[3.22,.17,5],[9.92,1.49,6],[10.33,1.6,7]];
const c4Speckles=[[5.5,3.96,8],[4.25,3.8,8],[5.77,3.85,8],[7.64,3.75,8],[1.9,3.08,8],[1,2.26,8],[9.64,2.26,8],[3.36,3.47,8],[2.32,3.19,8],[8.88,3.41,8],[5.29,3.16,10],[3.84,3.38,10],[2.94,3.22,10],[4.19,3.38,10],[4.94,3.41,10],[8.81,3.22,10],[6.88,3.41,10],[7.5,3.49,10],[4.67,1.52,8],[5.7,1.52,8],[3.9,1.24,8],[2.8,.75,8],[1.84,1.68,7],[1.63,.99,7],[7.29,2.29,7],[3.43,1.05,10]];

/* ---------- layout (pixels) ---------- */
const columns={a:{x0:467,x1:1146,ly:419,ly2:397},b:{x0:1374,x1:2056,ly:1331,ly2:1309},c:{x0:2286,x1:2966,ly:2237,ly2:2213}};
const rows=[
{y0:989,y1:519,top:517,yMax:2.5,xMax:3,dMin:.096,yT:row1YTicks,yL:row1YLabels,yM:[],xT:row1XTicks,xL:row1XLabels,xM:[],xBase:1056,labelScale:1,cell:5,wide:true},
{y0:1667,y1:1198,top:1196,yMax:2.5,xMax:4,dMin:.1,yT:row2YTicks,yL:row2YLabels,yM:[],xT:row2XTicks,xL:row2XLabels,xM:row2XMinor,xBase:1735,labelScale:1,cell:5,wide:true},
{y0:2334.5,y1:1863.5,top:1862,yMax:4,xMax:6.5,dMin:.09,yT:row3YTicks,yL:row3YLabels,yM:row3YMinor,xT:row3XTicks,xL:row3XLabels,xM:row3XMinor,xBase:2400,labelScale:1,cell:5,wide:false},
{y0:2998,y1:2527,top:2529,yMax:6,xMax:10.9,dMin:.076,yT:row4YTicks,yL:row4YLabels,yM:row4YMinor,xT:row4XTicks,xL:row4XLabels,xM:row4XMinor,xBase:3068,labelScale:.96,cell:5,wide:false}
];
const panels=[
{id:'a1',col:'a',row:0,rMin:.09,bands:a1Bands,beads:[],specks:[],xc:807,xb:1126,dx:318,dy:765},
{id:'b1',col:'b',row:0,rMin:.11,bands:b1Bands,beads:[],specks:[],xc:1705,xb:1126,dx:1238,dy:757},
{id:'c1',col:'c',row:0,rMin:.09,bands:c1Bands,beads:[],specks:[],xc:2620,xb:1130,dx:2153,dy:722},
{id:'a2',col:'a',row:1,rMin:.09,bands:a2Bands,beads:[],specks:[],xc:820,xb:1786,dx:317,dy:1424},
{id:'b2',col:'b',row:1,rMin:.12,bands:b2Bands,beads:[],specks:[],xc:1705,xb:1782,dx:1233,dy:1424},
{id:'c2',col:'c',row:1,rMin:.08,bands:c2Bands,beads:[],specks:[],xc:2629,xb:1786,dx:2144,dy:1436},
{id:'a3',col:'a',row:2,rMin:.1,bands:a3Bands,beads:[],specks:a3Speckles,xc:794,xb:2454,dx:317,dy:2102},
{id:'b3',col:'b',row:2,rMin:.1,bands:b3Bands,beads:[],specks:b3Speckles,xc:1692,xb:2446,dx:1246,dy:2098},
{id:'c3',col:'c',row:2,rMin:.06,bands:c3Bands,beads:[],specks:c3Speckles,xc:2632,xb:2454,dx:2154,dy:2114},
{id:'a4',col:'a',row:3,rMin:.09,bands:a4Bands,beads:a4Beads,specks:a4Speckles,xc:802,xb:3120,dx:330,dy:2774},
{id:'b4',col:'b',row:3,rMin:.11,bands:b4Bands,beads:b4Beads,specks:b4Speckles,xc:1724,xb:3122,dx:1263,dy:2790},
{id:'c4',col:'c',row:3,rMin:0,bands:c4Bands,beads:c4Beads,specks:c4Speckles,xc:2607,xb:3124,dx:2147,dy:2774}
];
const colorBars=[
{id:'top',labels:barLabelsHigh,x:3130,w:104,y0:518,y1:1025,lx:3285,px:3352,lo:16},
{id:'second',labels:barLabelsHigh,x:3130,w:104,y0:1198,y1:1704,lx:3281,px:3345,lo:6},
{id:'third',labels:barLabelsLow,x:3144,w:104,y0:1834,y1:2342,lx:3294,px:3358,lo:9},
{id:'bottom',labels:barLabelsLow,x:3139,w:104,y0:2506,y1:3019,lx:3289,px:3353,lo:15}
];
/* [id, muX, base, sup, supX, supW, supBase, sub, subX, subBase, eqX, eqW, value, valX, valW, mmX, mmW, expX, expW, primeX] */
const equationLines=[
['a-skin',562,216,'(s)',597,60,170,'a',605,231,629,31,'0.05',681,150,853,130,983,42,0],
['a-fat-absorption',558,341,'(f)',593,59,293,'a',601,355,624,33,'0.015',677,195,888,126,1014,46,0],
['a-fat-scattering',566,462,'(f)',624,59,405,'s',616,484,641,34,'1.15',693,153,869,126,995,46,608],
['b-skin',1464,215,'(s)',1498,62,169,'a',1504,231,1531,34,'0.5',1588,103,1713,126,1839,50,0],
['b-fat-absorption',1458,335,'(f)',1496,60,292,'a',1501,355,1527,35,'0.015',1585,195,1791,130,1921,46,0],
['b-fat-scattering',1467,450,'(f)',1527,60,407,'s',1518,479,1544,35,'1.15',1608,149,1780,126,1906,48,1510],
['c-skin',2360,210,'(s)',2394,61,169,'a',2400,231,2425,34,'0.05',2492,149,2666,126,2792,46,0],
['c-fat-absorption',2354,335,'(f)',2390,61,292,'a',2394,355,2421,34,'0.0075',2486,241,2742,125,2867,47,0],
['c-fat-scattering',2363,461,'(f)',2420,61,411,'s',2411,481,2440,34,'0.75',2500,156,2679,126,2805,46,2405]
];

/* ---------- helpers ---------- */
const NS='http://www.w3.org/2000/svg';
const root=document.getElementById('figure');
function mk(tag,attrs,parent){
  const el=document.createElementNS(NS,tag);
  for(const k in attrs){el.setAttribute(k,attrs[k]);}
  (parent||root).appendChild(el);
  return el;
}
function stepPath(pts,sx,sy,cell){
  const n=pts.length/2;let d='';let px=null,py=null;
  for(let i=0;i<n;i++){
    const j=(i+1)%n;
    const ax=sx(pts[2*i]),ay=sy(pts[2*i+1]),bx=sx(pts[2*j]),by=sy(pts[2*j+1]);
    const seg=Math.max(1,Math.ceil(Math.max(Math.abs(bx-ax),Math.abs(by-ay))/cell));
    for(let k=0;k<seg;k++){
      const gx=Math.round((ax+(bx-ax)*k/seg)/cell)*cell;
      const gy=Math.round((ay+(by-ay)*k/seg)/cell)*cell;
      if(px===null){d+='M'+gx+' '+gy;}else{d+='L'+gx+' '+py+'L'+gx+' '+gy;}
      px=gx;py=gy;
    }
  }
  return d+'Z';
}

/* ---------- equations above the columns ---------- */
equationLines.forEach(function(q){
  const g=mk('g',{});
  
  
  const items=[
    ['\u03bc',q[1],q[2],66,38,'mu'],
    [q[3],q[4],q[6],46,q[5],'superscript'],
    [q[7],q[8],q[9],40,22,'subscript'],
    ['=',q[10],q[2],60,q[11],'equals'],
    [q[12],q[13],q[2],66,q[14],'value'],
    ['mm',q[15],q[2],62,q[16],'unit'],
    ['-1',q[17],q[2]-29,44,q[18],'exponent']
  ];
  items.forEach(function(it){
    const t=mk('text',{x:it[1],y:it[2],'font-size':it[3],textLength:it[4],lengthAdjust:'spacingAndGlyphs'},g);
    
    
    t.textContent=it[0];
  });
  if(q[19]){
    const p=mk('text',{x:q[19],y:q[2]-26,'font-size':50,'font-weight':'bold'},g);
    
    
    p.textContent="'";
  }
});

/* ---------- panels ---------- */
panels.forEach(function(p){
  const c=columns[p.col],r=rows[p.row];
  const x=function(v){return c.x0+v/r.xMax*(c.x1-c.x0);};
  const y=function(v){return r.y0-v/r.yMax*(r.y0-r.y1);};
  const g=mk('g',{});
  
  

  const px0=x(p.rMin),py1=y(r.dMin);
  const plot=mk('rect',{x:px0,y:r.top,width:c.x1+1-px0,height:py1-r.top,fill:'#000'},g);
  
  

  const clip=mk('clipPath',{id:'clip-'+p.id},g);
  
  
  mk('rect',{x:px0,y:r.top,width:c.x1+1-px0,height:py1-r.top},clip);

  const marks=mk('g',{'clip-path':'url(#clip-'+p.id+')'},g);
  
  
  p.bands.forEach(function(layer,i){
    const path=mk('path',{d:stepPath(layer[1],x,y,r.cell),fill:bandColors[layer[0]],'shape-rendering':'crispEdges'},marks);
    
    
  });
  p.specks.forEach(function(s,i){
    const sq=mk('rect',{x:x(s[0])-4,y:y(s[1])-7,width:8,height:14,fill:bandColors[s[2]],'shape-rendering':'crispEdges'},marks);
    
    
  });
  p.beads.forEach(function(b,i){
    const cx=x(b[0]),cy=y(b[1]);
    const halo=mk('polygon',{points:(cx-22)+','+(cy+5)+' '+(cx-6)+','+(cy-8)+' '+(cx+22)+','+(cy-5)+' '+(cx+6)+','+(cy+8),fill:bandColors[6]},marks);
    
    
    const core=mk('polygon',{points:(cx-10)+','+(cy+2)+' '+(cx-2)+','+(cy-4)+' '+(cx+10)+','+(cy-2)+' '+(cx+2)+','+(cy+4),fill:bandColors[b[2]]},marks);
    
    
  });

  const yAxis=mk('line',{x1:c.x0,x2:c.x0,y1:r.y1-2,y2:r.y0+23,stroke:'#000','stroke-width':4},g);
  
  
  const xAxis=mk('line',{x1:c.x0-25,x2:c.x1+2,y1:r.y0,y2:r.y0,stroke:'#000','stroke-width':4},g);
  
  

  r.yT.forEach(function(v,i){
    const t=mk('line',{x1:c.x0-25,x2:c.x0,y1:y(v),y2:y(v),stroke:'#000','stroke-width':4},g);
    
    
    const lx=(v===0||r.wide)?c.ly:c.ly2;
    const l=mk('text',{x:lx,y:y(v)+14,'font-size':42,'text-anchor':'end'},g);
    
    
    l.textContent=r.yL[i];
  });
  r.yM.forEach(function(v,i){
    const t=mk('line',{x1:c.x0-12,x2:c.x0,y1:y(v),y2:y(v),stroke:'#000','stroke-width':4},g);
    
    
  });
  r.xT.forEach(function(v,i){
    const t=mk('line',{x1:x(v),x2:x(v),y1:r.y0,y2:r.y0+23,stroke:'#000','stroke-width':4},g);
    
    
    const l=mk('text',{x:c.x0+(x(v)-c.x0)*r.labelScale,y:r.xBase,'font-size':42,'text-anchor':'middle'},g);
    
    
    l.textContent=r.xL[i];
  });
  r.xM.forEach(function(v,i){
    const t=mk('line',{x1:x(v),x2:x(v),y1:r.y0,y2:r.y0+13,stroke:'#000','stroke-width':4},g);
    
    
  });

  const xt=mk('text',{x:p.xc,y:p.xb,'font-size':52,'text-anchor':'middle',textLength:574,lengthAdjust:'spacingAndGlyphs'},g);
  
  
  xt.textContent='Radial distance (mm)';
  const yt=mk('text',{x:0,y:0,transform:'translate('+p.dx+' '+p.dy+') rotate(-90)','font-size':52,'text-anchor':'middle',textLength:298,lengthAdjust:'spacingAndGlyphs'},g);
  
  
  yt.textContent='Depth (mm)';
});

/* ---------- colour bars ---------- */
colorBars.forEach(function(b){
  const g=mk('g',{});
  
  
  const h=b.y1-b.y0;
  barBands.forEach(function(band,i){
    const s=mk('rect',{x:b.x,y:b.y0+barStops[i]*h,width:b.w,height:(barStops[i+1]-barStops[i])*h+.5,fill:bandColors[band]},g);
    
    
  });
  const frame=mk('rect',{x:b.x,y:b.y0,width:b.w,height:h,fill:'none',stroke:'#000','stroke-width':4},g);
  
  
  b.labels.forEach(function(lab,i){
    const ty=b.y0+h*i/(b.labels.length-1);
    const t=mk('line',{x1:b.x+b.w,x2:b.x+b.w+27,y1:ty,y2:ty,stroke:'#000','stroke-width':4},g);
    
    
    const l=mk('text',{x:b.lx,y:ty+b.lo,'font-size':44},g);
    
    
    l.textContent=lab;
    const pct=mk('text',{x:lab.length===1?b.px-30:b.px,y:ty+b.lo+4,'font-size':48},g);
    
    
    pct.textContent='%';
  });
});
</script>
</body>
</html>
